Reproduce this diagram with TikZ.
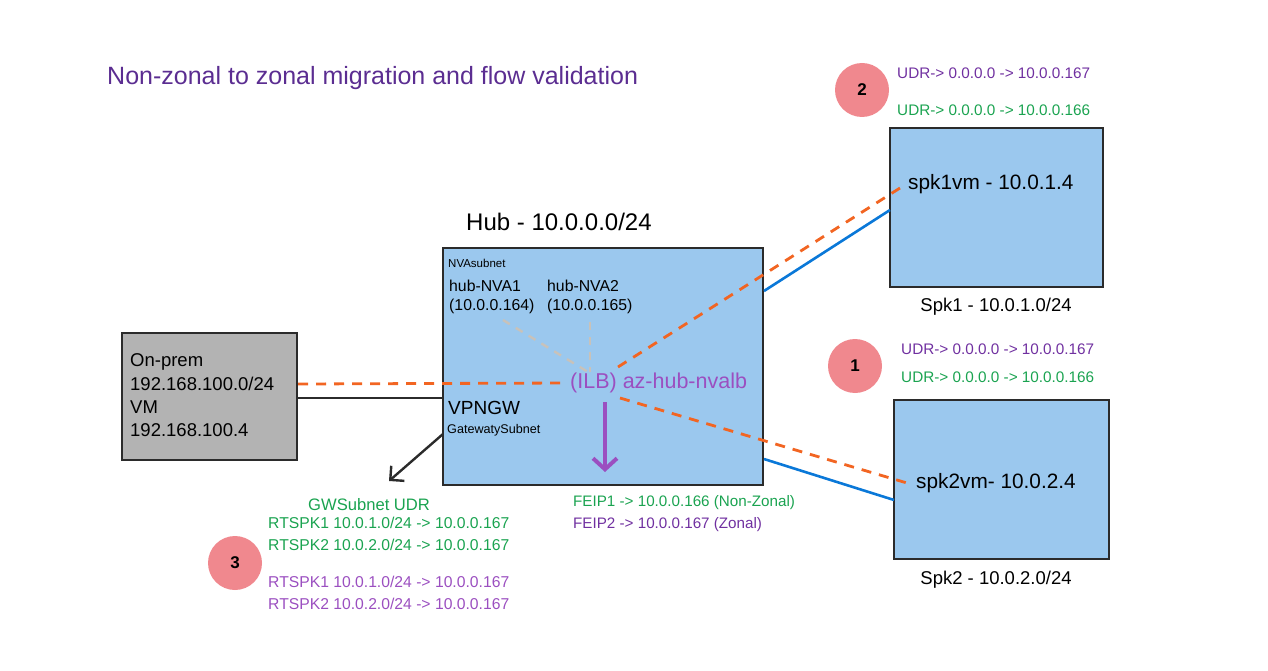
\documentclass[tikz,border=0pt]{standalone}
\usepackage{fontspec}
\setmainfont{Liberation Sans}
\usetikzlibrary{arrows.meta}
\definecolor{boxblue}{HTML}{9BC8EE}
\definecolor{boxgray}{HTML}{B3B3B3}
\definecolor{edge}{HTML}{2B2B2B}
\definecolor{titlepurple}{HTML}{5B2D91}
\definecolor{udrpurple}{HTML}{7030A0}
\definecolor{ilbpurple}{HTML}{9B4FC0}
\definecolor{udrgreen}{HTML}{1AA350}
\definecolor{dashorange}{HTML}{F26522}
\definecolor{linkblue}{HTML}{0A78D8}
\definecolor{badge}{HTML}{F0888E}
\definecolor{nvagray}{HTML}{C8C2BA}
\newcommand\fsz[1]{\fontsize{#1}{#1}\selectfont}
\tikzset{
  vbox/.style={draw=edge, line width=2.4pt, fill=boxblue},
  lbl/.style={inner sep=0pt, anchor=west},
  badgecirc/.style={circle, fill=badge, minimum size=54pt, inner sep=0pt, font=\fsz{17}\bfseries},
  orangedash/.style={draw=dashorange, line width=2.8pt, dash pattern=on 10pt off 8pt},
  graydash/.style={draw=nvagray, line width=2.4pt, dash pattern=on 8pt off 7pt},
  bluelink/.style={draw=linkblue, line width=2.6pt},
}
\begin{document}
\begin{tikzpicture}[x=1pt,y=-1pt]
\useasboundingbox (0,0) rectangle (1268,671);
% title
\node[lbl, text=titlepurple, font=\fsz{25}] (title) at (107,78) {Non-zonal to zonal migration and flow validation};

% boxes
\draw[vbox] (443,248) rectangle (763,485);
\draw[vbox] (890,128) rectangle (1103,287);
\draw[vbox] (894,400) rectangle (1109,559);
\draw[draw=edge, line width=2.4pt, fill=boxgray] (122,333) rectangle (297,460);

% hub texts
\node[lbl, font=\fsz{24}] (hublbl) at (466,222) {Hub - 10.0.0.0/24};
\node[lbl, font=\fsz{11.5}] (nvasub) at (448,263) {NVAsubnet};
\node[lbl, font=\fsz{15.8}] (nva1a) at (449,286) {hub-NVA1};
\node[lbl, font=\fsz{15.8}] (nva1b) at (449,306) {(10.0.0.164)};
\node[lbl, font=\fsz{15.8}] (nva2a) at (547,286) {hub-NVA2};
\node[lbl, font=\fsz{15.8}] (nva2b) at (547,306) {(10.0.0.165)};
\node[lbl, text=ilbpurple, font=\fsz{21.5}] (ilb) at (570,383) {(ILB) az-hub-nvalb};
\node[lbl, font=\fsz{19}] (vpngw) at (448,408) {VPNGW};
\node[lbl, font=\fsz{12.6}] (gwsub) at (447,430) {GatewatySubnet};

% on-prem texts
\node[lbl, font=\fsz{18.5}] (op1) at (130,362) {On-prem};
\node[lbl, font=\fsz{18.5}] (op2) at (130,384) {192.168.100.0/24};
\node[lbl, font=\fsz{18.5}] (op3) at (130,407) {VM};
\node[lbl, font=\fsz{18.5}] (op4) at (130,430) {192.168.100.4};

% spokes
\node[lbl, font=\fsz{20.8}] (spk1vm) at (908,184) {spk1vm - 10.0.1.4};
\node[font=\fsz{18.5}, inner sep=0pt] (spk1lbl) at (996,307) {Spk1 - 10.0.1.0/24};
\node[lbl, font=\fsz{20.8}] (spk2vm) at (916,483) {spk2vm- 10.0.2.4};
\node[font=\fsz{18.5}, inner sep=0pt] (spk2lbl) at (996,580) {Spk2 - 10.0.2.0/24};

% badges and UDRs
\node[badgecirc] (b2) at (862,90) {2};
\node[lbl, text=udrpurple, font=\fsz{15.3}] (u2a) at (897,73) {UDR-> 0.0.0.0 -> 10.0.0.167};
\node[lbl, text=udrgreen, font=\fsz{15.3}] (u2b) at (897,110) {UDR-> 0.0.0.0 -> 10.0.0.166};
\node[badgecirc] (b1) at (855,366) {1};
\node[lbl, text=udrpurple, font=\fsz{15.3}] (u1a) at (901,349) {UDR-> 0.0.0.0 -> 10.0.0.167};
\node[lbl, text=udrgreen, font=\fsz{15.3}] (u1b) at (901,377) {UDR-> 0.0.0.0 -> 10.0.0.166};
\node[badgecirc] (b3) at (235,563) {3};

% FEIP
\node[lbl, text=udrgreen, font=\fsz{15.2}] (fe1) at (573,503) {FEIP1 -> 10.0.0.166 (Non-Zonal)};
\node[lbl, text=udrpurple, font=\fsz{15.2}] (fe2) at (573,525) {FEIP2 -> 10.0.0.167 (Zonal)};

% GW subnet UDR
\node[lbl, text=udrgreen, font=\fsz{16.6}] (gwudr) at (308,505) {GWSubnet UDR};
\node[lbl, text=udrgreen, font=\fsz{15.7}] (g1) at (268,523) {RTSPK1 10.0.1.0/24 -> 10.0.0.167};
\node[lbl, text=udrgreen, font=\fsz{15.7}] (g2) at (268,545) {RTSPK2 10.0.2.0/24 -> 10.0.0.167};
\node[lbl, text=ilbpurple, font=\fsz{15.7}] (p1) at (268,582) {RTSPK1 10.0.1.0/24 -> 10.0.0.167};
\node[lbl, text=ilbpurple, font=\fsz{15.7}] (p2) at (268,604) {RTSPK2 10.0.2.0/24 -> 10.0.0.167};

% connector coordinates
\coordinate (opR1) at (298,384);
\coordinate (ilbL) at (567,383);
\coordinate (ilbUR) at (618,367);
\coordinate (ilbLR) at (620,398);
\coordinate (spk1in) at (900,188);
\coordinate (spk2in) at (907,483);
\coordinate (opR2) at (298,398);
\coordinate (hubL) at (443,398);
\coordinate (hubR1) at (764,291);
\coordinate (spk1L) at (890,210);
\coordinate (hubR2) at (764,459);
\coordinate (spk2L) at (894,500);
\coordinate (nva1end) at (503,320);
\coordinate (nva2end) at (590,322);
\coordinate (ilbtop) at (588,372);
\coordinate (ilbtop2) at (590,372);
\coordinate (gwstart) at (443,434);
\coordinate (gwend) at (389,481);
\coordinate (arrtop) at (605,402);
\coordinate (arrbot) at (605,472);

% connectors
\draw[bluelink] (hubR1) -- (spk1L);
\draw[bluelink] (hubR2) -- (spk2L);
\draw[draw=edge, line width=2.4pt] (opR2) -- (hubL);
\draw[orangedash] (opR1) -- (ilbL);
\draw[orangedash] (ilbUR) -- (spk1in);
\draw[orangedash] (ilbLR) -- (spk2in);
\draw[graydash] (nva1end) -- (ilbtop);
\draw[graydash] (nva2end) -- (ilbtop2);
\draw[draw=edge, line width=2.4pt, -{Straight Barb[length=10pt,width=20pt,line width=2.4pt]}] (gwstart) -- (gwend);
\draw[draw=ilbpurple, line width=4pt, -{Straight Barb[length=11pt,width=24pt,line width=4pt]}] (arrtop) -- (arrbot);
\end{tikzpicture}
\end{document}
